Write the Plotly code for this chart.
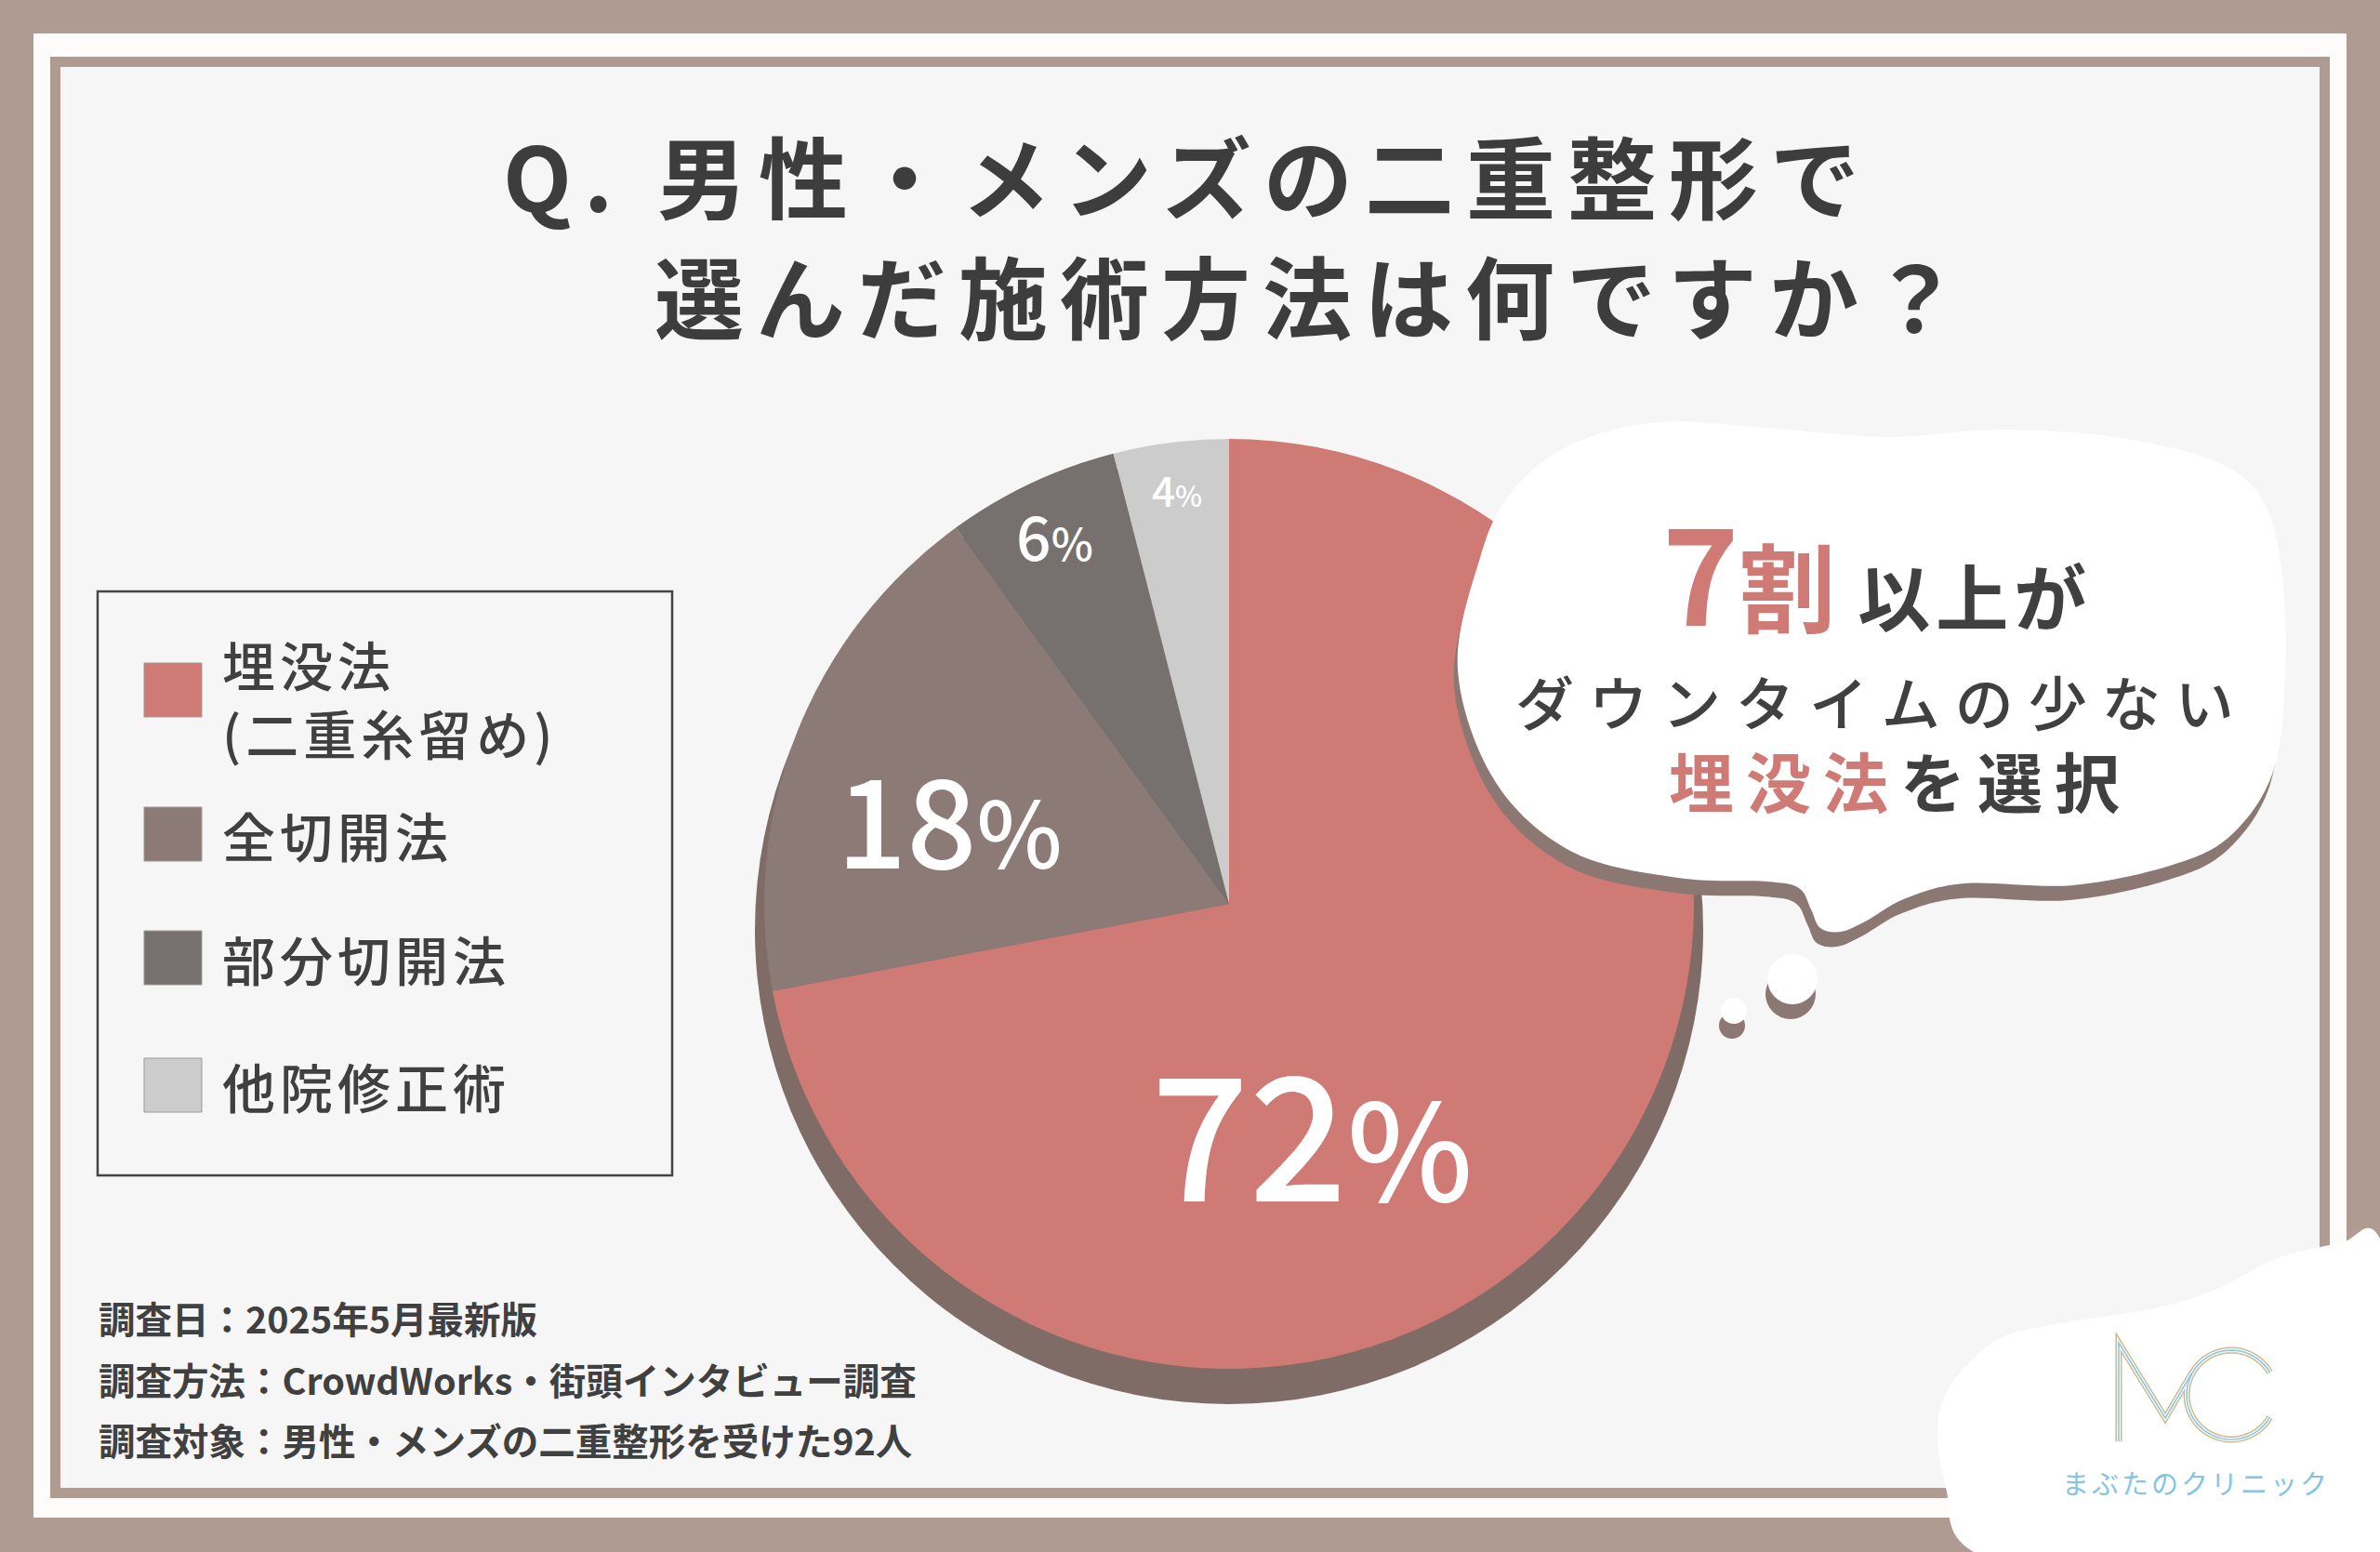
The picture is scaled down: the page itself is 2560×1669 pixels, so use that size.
import math
import plotly.graph_objects as go

# ---------------- data ----------------
categories = ["埋没法(二重糸留め)", "全切開法", "部分切開法", "他院修正術"]
legend_labels = ["埋没法<br>(二重糸留め)", "全切開法", "部分切開法", "他院修正術"]
values = [72, 18, 6, 4]
colors = ["#cf7a74", "#8c7a76", "#76706e", "#cccccc"]

title_lines = ["Q. 男性・メンズの二重整形で", "選んだ施術方法は何ですか？"]
notes = [
    "調査日：2025年5月最新版",
    "調査方法：CrowdWorks・街頭インタビュー調査",
    "調査対象：男性・メンズの二重整形を受けた92人",
]
logo_text = "まぶたのクリニック"

# ---------------- style ----------------
W, H = 2560, 1669
FRAME = "#b09b93"
DARK = "#404040"
RED = "#cf7a74"
JP = "Noto Sans CJK JP"
label_sizes = [185, 132, 66, 44]
pct_ratio = [0.78, 0.74, 0.72, 0.7]
label_angle_shift = [30, -4, 0, 0]      # degrees, label placement tweak
label_radius = [0.51, 0.63, 0.88, 0.90]  # fraction of pie radius


def X(x):
    return x / W


def Y(y):
    return 1 - y / H


def px_dom(x0, x1, y0, y1):
    return dict(x=[X(x0), X(x1)], y=[Y(y1), Y(y0)])


def smooth(pts, dx=0, dy=0):
    n = len(pts)
    p = [(X(x + dx), Y(y + dy)) for x, y in pts]
    s = f"M {p[0][0]:.5f},{p[0][1]:.5f}"
    for i in range(n):
        p0, p1, p2, p3 = p[i - 1], p[i], p[(i + 1) % n], p[(i + 2) % n]
        c1 = (p1[0] + (p2[0] - p0[0]) / 6, p1[1] + (p2[1] - p0[1]) / 6)
        c2 = (p2[0] - (p3[0] - p1[0]) / 6, p2[1] - (p3[1] - p1[1]) / 6)
        s += (f" C {c1[0]:.5f},{c1[1]:.5f} {c2[0]:.5f},{c2[1]:.5f}"
              f" {p2[0]:.5f},{p2[1]:.5f}")
    return s + " Z"


def poly(pts):
    return "M " + " L ".join(f"{X(x):.5f},{Y(y):.5f}" for x, y in pts)


def rect(x0, y0, x1, y1, fill, line=None, layer="below"):
    return dict(type="rect", xref="paper", yref="paper", x0=X(x0), x1=X(x1),
                y0=Y(y1), y1=Y(y0), fillcolor=fill,
                line=line or dict(width=0), layer=layer)


def circ(cx_, cy_, rr, fill):
    return dict(type="circle", xref="paper", yref="paper", x0=X(cx_ - rr), x1=X(cx_ + rr),
                y0=Y(cy_ + rr), y1=Y(cy_ - rr), fillcolor=fill, line=dict(width=0),
                layer="above")


def ann(x, y, text, size, color=DARK, weight=500, xanchor="left", align="left"):
    return dict(x=X(x), y=Y(y), xref="paper", yref="paper", xanchor=xanchor,
                yanchor="middle", text=text, showarrow=False, align=align,
                font=dict(family=JP, size=size, color=color, weight=weight))


fig = go.Figure()

# pie shadow
cx, cy, r = 1322, 972, 500
fig.add_trace(go.Pie(
    values=[1], labels=["shadow"], marker=dict(colors=["#7f6c66"]),
    domain=px_dom(cx - 510, cx + 510, cy + 28 - 510, cy + 28 + 510),
    textinfo="none", hoverinfo="skip", showlegend=False, sort=False,
))

fig.add_trace(go.Pie(
    labels=categories, values=values, textinfo="none",
    marker=dict(colors=colors, line=dict(width=0)),
    sort=False, direction="clockwise", rotation=0,
    domain=px_dom(cx - r, cx + r, cy - r, cy + r),
    showlegend=False, hoverinfo="label+percent",
))

shapes = []
annotations = []

# percentage labels placed along each slice's angle (derived from the values)
total = sum(values)
cum = 0
for v, s, q, da, rf in zip(values, label_sizes, pct_ratio, label_angle_shift, label_radius):
    mid = (cum + v / 2) / total * 360 + da
    cum += v
    lx = cx + rf * r * math.sin(math.radians(mid))
    ly = cy - rf * r * math.cos(math.radians(mid))
    annotations.append(ann(lx, ly, f"{v}<span style='font-size:{round(s * q)}px'>%</span>",
                           s, color="white", weight=500, xanchor="center", align="center"))

# frame
shapes.append(rect(36, 36, 2524, 1632, "#fdfcfb"))
shapes.append(rect(54, 61, 2506, 1611, FRAME))
shapes.append(rect(65, 72, 2495, 1600, "#f6f6f6"))

# legend box
shapes.append(rect(105, 636, 723, 1264, "rgba(0,0,0,0)",
                   line=dict(color="#454545", width=2.5)))
legend_y = [742, 897, 1030, 1167]
legend_text_y = [750, 897, 1030, 1167]
for lab, col, yc, ty in zip(legend_labels, colors, legend_y, legend_text_y):
    shapes.append(rect(155, yc - 29, 217, yc + 29, col, line=dict(color="#9a9a9a", width=1)))
    annotations.append(ann(237, ty, f"<span style='letter-spacing:5px'>{lab}</span>", 57))

# speech bubble
bubble = [(1592, 600), (1625, 530), (1690, 478), (1785, 454), (1900, 460), (2030, 470),
          (2150, 462), (2275, 470), (2380, 495), (2432, 535), (2454, 610), (2458, 727),
          (2445, 830), (2400, 898), (2337, 930), (2230, 952), (2114, 950), (2050, 966),
          (2008, 990), (1980, 1002), (1958, 998), (1948, 978), (1935, 955), (1900, 948),
          (1805, 944), (1691, 916), (1608, 840), (1568, 720)]
shapes.append(dict(type="path", xref="paper", yref="paper", path=smooth(bubble, -4, 16),
                   fillcolor="#8b7873", line=dict(width=0), layer="above"))
shapes.append(dict(type="path", xref="paper", yref="paper", path=smooth(bubble),
                   fillcolor="white", line=dict(width=0), layer="above"))
for (ccx, ccy, cr) in [(1928, 1053, 27), (1865, 1087, 14)]:
    shapes.append(circ(ccx - 2, ccy + 16, cr, "#8b7873"))
    shapes.append(circ(ccx, ccy, cr, "white"))

# logo blob
blob = [(2123, 1669), (2093, 1600), (2084, 1535), (2100, 1487), (2150, 1440),
        (2217, 1423), (2317, 1407), (2383, 1387), (2450, 1353), (2517, 1337),
        (2560, 1332), (2600, 1500), (2560, 1700), (2300, 1720)]
shapes.append(dict(type="path", xref="paper", yref="paper", path=smooth(blob),
                   fillcolor="white", line=dict(width=0), layer="above"))
# MC mark
arc = [(2400 + 48 * math.cos(math.radians(a)), 1500 - 48 * math.sin(math.radians(a)))
       for a in range(30, 331, 6)]
m_pts = [(2279, 1550), (2279, 1444), (2329, 1525), (2358, 1476)]
for col, wd in [("#cdb98f", 7), ("white", 4), ("#88c6e4", 1.6)]:
    for pts in (m_pts, arc):
        shapes.append(dict(type="path", xref="paper", yref="paper", path=poly(pts),
                           line=dict(color=col, width=wd), layer="above"))

# title
annotations.append(ann(539, 187, f"<span style='letter-spacing:13px'>{title_lines[0]}</span>",
                       96, color="#3d3d3d", weight=700))
annotations.append(ann(702, 315, f"<span style='letter-spacing:13px'>{title_lines[1]}</span>",
                       96, color="#3d3d3d", weight=700))

# bubble text
annotations.append(ann(1786, 612,
                       (f"<span style='color:{RED};font-size:140px'>7</span>"
                        f"<span style='color:{RED};font-size:104px'>割</span>"
                        f"<span style='font-size:78px;letter-spacing:6px'> 以上が</span>"),
                       78, weight=700))
annotations.append(ann(2024, 752, "<span style='letter-spacing:16px'>ダウンタイムの少ない</span>",
                       63, weight=500, xanchor="center", align="center"))
annotations.append(ann(2044, 838,
                       (f"<span style='letter-spacing:13px'><span style='color:{RED}'>埋没法</span>"
                        f"を選択</span>"),
                       70, weight=700, xanchor="center", align="center"))

# notes
for t, yy in zip(notes, [1416, 1482, 1547]):
    annotations.append(ann(104, yy, t, 39.5, weight=700))

# logo text
annotations.append(ann(2362, 1594, f"<span style='letter-spacing:3px'>{logo_text}</span>",
                       29, color="#86c4e4", weight=400, xanchor="center", align="center"))

fig.update_layout(
    width=W, height=H, margin=dict(l=0, r=0, t=0, b=0),
    paper_bgcolor=FRAME, plot_bgcolor="rgba(0,0,0,0)",
    shapes=shapes, annotations=annotations, showlegend=False,
)

fig.write_html("out.html", config={"displayModeBar": False},
               post_script="document.body.style.margin='0';")
